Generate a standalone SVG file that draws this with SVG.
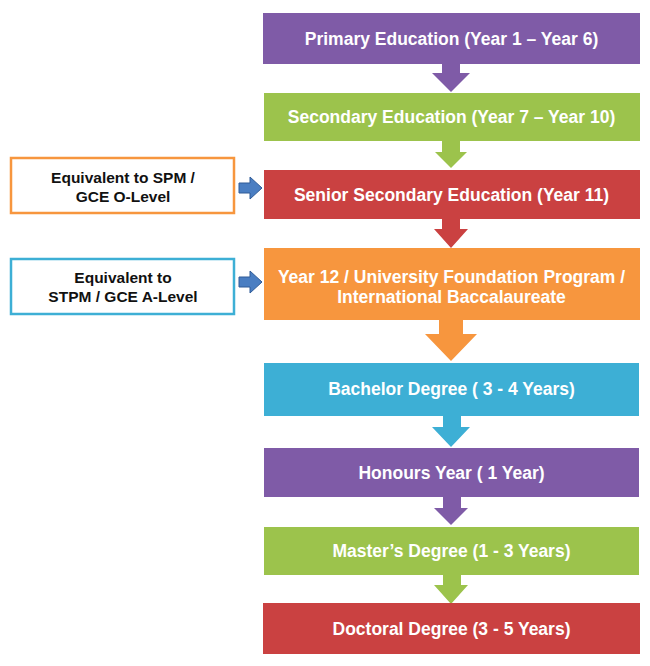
<svg xmlns="http://www.w3.org/2000/svg" width="650" height="666" viewBox="0 0 650 666">
<style>
.t{font-family:"Liberation Sans","DejaVu Sans",sans-serif;font-weight:bold;font-size:17.5px;fill:#ffffff;text-anchor:middle}
.l{font-family:"Liberation Sans","DejaVu Sans",sans-serif;font-weight:bold;font-size:15.5px;fill:#111111;text-anchor:middle}
.purple{fill:#7F5BA7}
.green{fill:#9CC34C}
.red{fill:#CA4141}
.orange{fill:#F7963E}
.blue{fill:#3DAFD5}
.side{fill:#ffffff;stroke-width:2.5}
.sa{fill:#4A7EC2;stroke:#2E5B97;stroke-width:1}
</style>
<rect width="650" height="666" fill="#ffffff"/>
<g id="connectors">
<polygon class="purple" points="442,64 460,64 460,73 470,73 451,92 432,73 442,73"/>
<polygon class="green" points="442,141 460,141 460,152 467,152 451,168 435,152 442,152"/>
<polygon class="red" points="442,219 460,219 460,229 468,229 451,248 434,229 442,229"/>
<polygon class="orange" points="439,320 463,320 463,334 477,334 451,361 425,334 439,334"/>
<polygon class="blue" points="443,416 461,416 461,427 470,427 451,447 432,427 443,427"/>
<polygon class="purple" points="443,497 461,497 461,508 468,508 451,525 434,508 443,508"/>
<polygon class="green" points="443,575 461,575 461,585 468,585 451,604 434,585 443,585"/>
<polygon class="sa" points="239,183 250,183 250,177 262,188 250,199 250,193 239,193"/>
<polygon class="sa" points="239,277 250,277 250,271 262,282 250,293 250,287 239,287"/>
</g>
<g id="n1"><rect class="purple" x="263" y="13" width="377" height="51"/><text class="t" x="451.5" y="45">Primary Education (Year 1 – Year 6)</text></g>
<g id="n2"><rect class="green" x="264" y="93" width="376" height="48"/><text class="t" x="451.5" y="123">Secondary Education (Year 7 – Year 10)</text></g>
<g id="n3"><rect class="red" x="264" y="170" width="376" height="49"/><text class="t" x="451.5" y="201">Senior Secondary Education (Year 11)</text></g>
<g id="n4"><rect class="orange" x="264" y="248" width="376" height="72"/><text class="t" x="451.5" y="283">Year 12 / University Foundation Program /</text><text class="t" x="451.5" y="303">International Baccalaureate</text></g>
<g id="n5"><rect class="blue" x="264" y="363" width="375" height="53"/><text class="t" x="451.5" y="395">Bachelor Degree ( 3 - 4 Years)</text></g>
<g id="n6"><rect class="purple" x="264" y="448" width="375" height="49"/><text class="t" x="451.5" y="479">Honours Year ( 1 Year)</text></g>
<g id="n7"><rect class="green" x="264" y="527" width="375" height="48"/><text class="t" x="451.5" y="557">Master’s Degree (1 - 3 Years)</text></g>
<g id="n8"><rect class="red" x="263" y="603" width="377" height="51"/><text class="t" x="451.5" y="635">Doctoral Degree (3 - 5 Years)</text></g>
<g id="s1"><rect class="side" x="11" y="158" width="223" height="55" stroke="#F7963E"/><text class="l" x="123" y="183">Equivalent to SPM /</text><text class="l" x="123" y="202">GCE O-Level</text></g>
<g id="s2"><rect class="side" x="11" y="259" width="223" height="55" stroke="#3DAFD5"/><text class="l" x="123" y="283">Equivalent to</text><text class="l" x="123" y="302">STPM / GCE A-Level</text></g>
</svg>
